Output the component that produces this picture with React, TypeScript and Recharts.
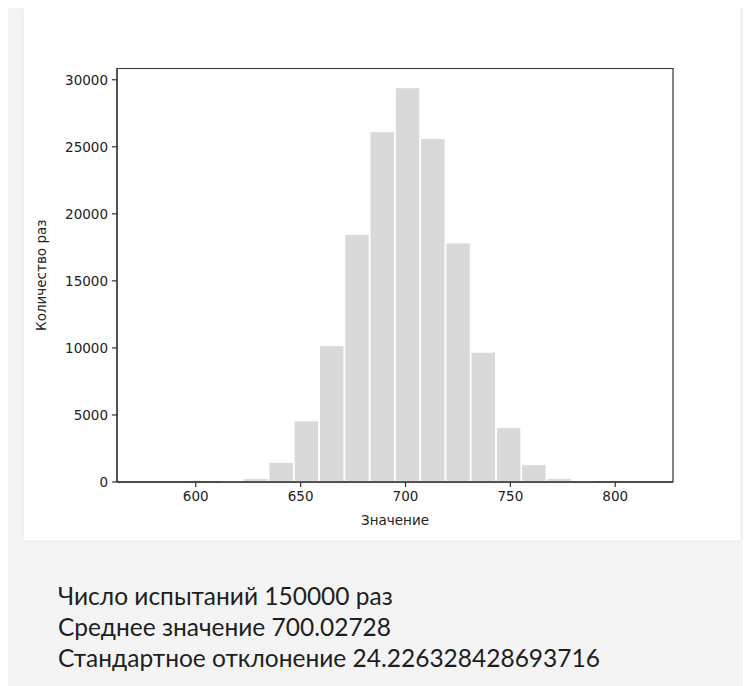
import React from "react";
import { ComposedChart, Bar, XAxis, YAxis, ReferenceLine, ReferenceArea } from "recharts";

// Histogram bin centres (bin width 12.05) and counts
const binCenters = [580.53, 592.58, 604.63, 616.68, 628.73, 640.78, 652.83, 664.88, 676.93, 688.98, 701.03, 713.08, 725.13, 737.18, 749.23, 761.28, 773.33, 785.38, 797.43, 809.48];
const counts = [1, 2, 13, 70, 220, 1430, 4530, 10130, 18430, 26090, 29370, 25580, 17790, 9640, 4035, 1260, 235, 55, 8, 1];
const xTicks = [600, 650, 700, 750, 800];
const yTicks = [0, 5000, 10000, 15000, 20000, 25000, 30000];
const xDomain = [562.45, 827.55];
const xLabel = "Значение";
const yLabel = "Количество раз";
const infoLines = [
  "Число испытаний 150000 раз",
  "Среднее значение 700.02728",
  "Стандартное отклонение 24.226328428693716",
];

const data = binCenters.map((c, i) => ({ x: c, count: counts[i] }));
const yTop = Math.max(...counts) * 1.05;

const FONT = "'DejaVu Sans', sans-serif";
const AXIS = "#333";

const BarShape = (props: any) => {
  const { x, y, width, height } = props;
  if (!height || height <= 0) return null;
  return <rect x={x + 0.8} y={y} width={Math.max(0, width - 1.6)} height={height} fill="#d9d9d9" />;
};

const YLabel = (props: any) => {
  const vb = props.viewBox || {};
  const cx = vb.x + 12;
  const cy = vb.y + vb.height / 2;
  return (
    <text x={cx} y={cy} transform={`rotate(-90, ${cx}, ${cy})`} textAnchor="middle" dominantBaseline="central" fontFamily={FONT} fontSize={13.5} fill="#222">
      {yLabel}
    </text>
  );
};

const XLabel = (props: any) => {
  const vb = props.viewBox || {};
  const cx = vb.x + vb.width / 2;
  const cy = vb.y + 38;
  return (
    <text x={cx} y={cy} textAnchor="middle" dominantBaseline="central" fontFamily={FONT} fontSize={13.5} fill="#222">
      {xLabel}
    </text>
  );
};

export default function App() {
  return (
    <div style={{ position: "relative", width: 743, height: 678, background: "#f4f4f4" }}>
      <div style={{ position: "absolute", left: 16, top: 0, width: 716, height: 532, background: "#ffffff", boxShadow: "0 0 6px rgba(0,0,0,0.04)" }}>
        <ComposedChart
          width={716}
          height={532}
          data={data}
          margin={{ top: 60.5, right: 67, bottom: 8, left: 5 }}
          barCategoryGap={0}
          barGap={0}
        >
          <XAxis
            dataKey="x"
            type="number"
            domain={xDomain}
            ticks={xTicks}
            allowDataOverflow
            height={50}
            tickSize={5}
            tickMargin={4}
            stroke={AXIS}
            strokeWidth={1.2}
            tick={{ fontFamily: FONT, fontSize: 13.5, fill: "#222" }}
            tickLine={{ stroke: AXIS }}
            label={<XLabel />}
          />
          <YAxis
            type="number"
            domain={[0, yTop]}
            ticks={yTicks}
            width={88}
            tickSize={5}
            tickMargin={4}
            stroke={AXIS}
            strokeWidth={1.2}
            tick={{ fontFamily: FONT, fontSize: 13.5, fill: "#222" }}
            tickLine={{ stroke: AXIS }}
            label={<YLabel />}
          />
          <Bar dataKey="count" shape={<BarShape />} isAnimationActive={false} />
          <ReferenceArea x1={xDomain[0]} x2={xDomain[1]} y1={0} y2={yTop} fill="none" fillOpacity={0} stroke={AXIS} strokeWidth={1.2} ifOverflow="visible" />
          <ReferenceLine y={0} stroke={AXIS} strokeWidth={1.2} />
        </ComposedChart>
      </div>
      <div style={{ position: "absolute", left: 50, top: 572, fontFamily: "Lato, sans-serif", fontSize: 24.5, lineHeight: "31px", color: "#1e1e1e" }}>
        {infoLines.map((t) => (
          <div key={t}>{t}</div>
        ))}
      </div>
    </div>
  );
}
